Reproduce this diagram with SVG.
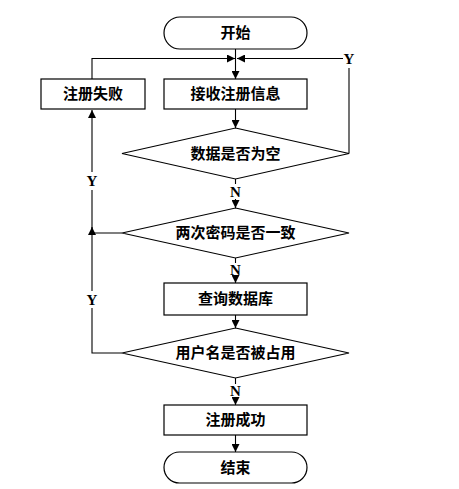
<svg xmlns="http://www.w3.org/2000/svg" width="459" height="489" viewBox="0 0 459 489">
<style>
.shape{fill:#fff;stroke:#000;stroke-width:1.2}
.t{font-family:"Liberation Serif","Noto Sans CJK SC",serif;font-size:15px;font-weight:bold;text-anchor:middle;dominant-baseline:central;fill:#000}
.lbl{font-family:"Liberation Serif",serif;font-size:15px;font-weight:bold;text-anchor:middle;dominant-baseline:central;fill:#000}
.c{fill:none;stroke:#000;stroke-width:1.1}
</style>
<defs>
<marker id="a" markerUnits="userSpaceOnUse" markerWidth="8" markerHeight="8" refX="8" refY="4" orient="auto">
<path d="M0,0 L8,4 L0,8 Z" fill="#000"/>
</marker>
</defs>
<rect width="459" height="489" fill="#fff"/>
<g id="connectors">
<path class="c" d="M235.5,49 V79" marker-end="url(#a)"/>
<path class="c" d="M92,79 V58.5 H235" marker-end="url(#a)"/>
<path class="c" d="M349,153.5 V68 M343,58.5 H237" marker-end="url(#a)"/>
<path class="c" d="M235.5,109 V128" marker-end="url(#a)"/>
<path class="c" d="M235.5,179 V184 M235.5,199 V208" marker-end="url(#a)"/>
<path class="c" d="M122,233 H92 V190 M92,172 V110" marker-end="url(#a)"/>
<path class="c" d="M122,353 H92 V308 M92,291 V227" marker-end="url(#a)"/>
<path class="c" d="M235.5,258 V263 M235.5,277 V283" marker-end="url(#a)"/>
<path class="c" d="M235.5,315 V328" marker-end="url(#a)"/>
<path class="c" d="M235.5,378 V384 M235.5,398 V405" marker-end="url(#a)"/>
<path class="c" d="M235.5,435 V452" marker-end="url(#a)"/>
<text class="lbl" x="349" y="58.5">Y</text>
<text class="lbl" x="235.5" y="191.5">N</text>
<text class="lbl" x="92" y="181">Y</text>
<text class="lbl" x="235.5" y="270">N</text>
<text class="lbl" x="92" y="299.5">Y</text>
<text class="lbl" x="235.5" y="391">N</text>
</g>
<g id="start">
<rect class="shape" x="164" y="17" width="143" height="32" rx="16" ry="16"/>
<text class="t" x="235.5" y="33">开始</text>
</g>
<g id="fail">
<rect class="shape" x="41" y="79" width="104" height="30"/>
<text class="t" x="93" y="94">注册失败</text>
</g>
<g id="receive">
<rect class="shape" x="164" y="79" width="143" height="30"/>
<text class="t" x="235.5" y="94">接收注册信息</text>
</g>
<g id="empty">
<polygon class="shape" points="235.5,128 349,153.5 235.5,179 122,153.5"/>
<text class="t" x="235.5" y="154">数据是否为空</text>
</g>
<g id="pwd">
<polygon class="shape" points="235.5,208 349,233 235.5,258 122,233"/>
<text class="t" x="235.5" y="233">两次密码是否一致</text>
</g>
<g id="query">
<rect class="shape" x="164" y="283" width="143" height="32"/>
<text class="t" x="235.5" y="299">查询数据库</text>
</g>
<g id="taken">
<polygon class="shape" points="235.5,328 349,353 235.5,378 122,353"/>
<text class="t" x="235.5" y="353">用户名是否被占用</text>
</g>
<g id="success">
<rect class="shape" x="164" y="405" width="143" height="30"/>
<text class="t" x="235.5" y="420">注册成功</text>
</g>
<g id="end">
<rect class="shape" x="164" y="452" width="143" height="31" rx="15.5" ry="15.5"/>
<text class="t" x="235.5" y="467.5">结束</text>
</g>
</svg>
